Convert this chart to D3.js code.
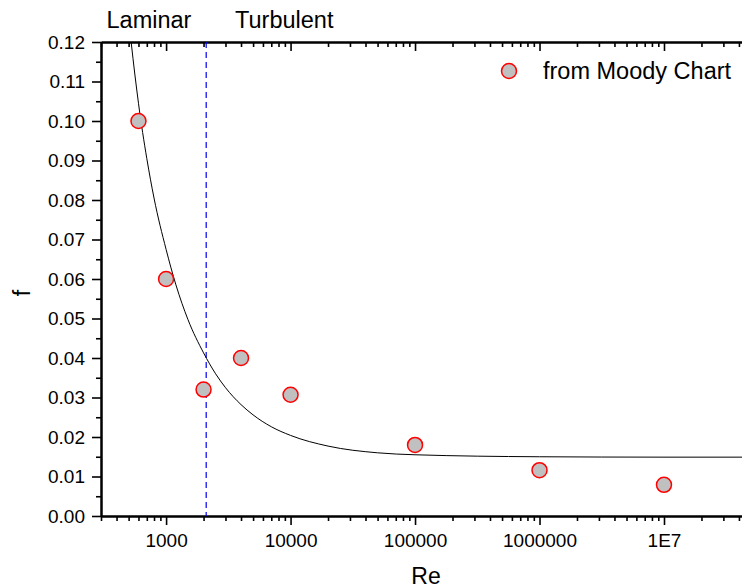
<!DOCTYPE html>
<html>
<head>
<meta charset="utf-8">
<script src="https://cdn.jsdelivr.net/npm/d3@7"></script>
<style>
  body { margin: 0; background: #fff; }
  text { font-family: "Liberation Sans", Arial, sans-serif; }
</style>
</head>
<body>
<div id="chart"></div>
<script>
// points (from Moody Chart)
var reValues = [600, 1000, 2000, 4000, 10000, 100000, 1000000, 10000000];
var fValues  = [0.100, 0.060, 0.032, 0.040, 0.0307, 0.0180, 0.0116, 0.0079];

// fitted curve
var curveRe = [500, 524, 600, 700, 800, 1000, 1200, 1500, 2000, 2500, 3000, 4000, 5000, 7000, 10000, 20000, 50000, 100000, 1000000, 10000000, 50000000];
var curveF  = [0.126, 0.120, 0.1045, 0.0905, 0.0805, 0.0675, 0.0585, 0.0497, 0.0413, 0.0360, 0.0325, 0.0282, 0.0256, 0.0226, 0.0204, 0.0177, 0.0160, 0.0155, 0.0150, 0.0149, 0.0149];

var xMajor = [1000, 10000, 100000, 1000000, 10000000];
var xLabels = ["1000", "10000", "100000", "1000000", "1E7"];
var yMajor = [0, 0.01, 0.02, 0.03, 0.04, 0.05, 0.06, 0.07, 0.08, 0.09, 0.10, 0.11, 0.12];
var transitionRe = 2100;
var legendLabel = "from Moody Chart";

var W = 742, H = 588;
var mLeft = 101, mRight = 751, mTop = 42, mBottom = 516;

var svg = d3.select("#chart").append("svg")
    .attr("width", W)
    .attr("height", H);

var x = d3.scaleLog().domain([300, 5e7]).range([mLeft, mRight]);
var y = d3.scaleLinear().domain([0, 0.12]).range([mBottom, mTop]);

// minor ticks
var xMinor = [];
for (var e = 2; e <= 7; e++) {
  for (var m = 2; m <= 9; m++) {
    var v = m * Math.pow(10, e);
    if (v >= 300 && v <= 5e7) xMinor.push(v);
  }
}
var yMinor = [];
for (var i = 0; i < 12; i++) yMinor.push(0.005 + i * 0.01);

svg.append("defs").append("clipPath").attr("id", "clip")
  .append("rect").attr("x", mLeft).attr("y", mTop)
  .attr("width", mRight - mLeft).attr("height", mBottom - mTop);

function styleAxis(g) {
  g.select(".domain").attr("stroke", "#000").attr("stroke-width", 2);
  g.selectAll(".tick line").attr("stroke", "#000").attr("stroke-width", 1.6);
  g.selectAll(".tick text")
    .attr("font-family", "'Liberation Sans', Arial, sans-serif")
    .attr("font-size", 19)
    .attr("fill", "#000");
}

// bottom axis
svg.append("g").attr("transform", "translate(0," + mBottom + ")")
  .call(d3.axisBottom(x).tickValues(xMinor).tickSize(5).tickSizeOuter(0).tickFormat(""))
  .call(styleAxis);
svg.append("g").attr("transform", "translate(0," + mBottom + ")")
  .call(d3.axisBottom(x).tickValues(xMajor).tickSize(9).tickSizeOuter(0).tickPadding(9)
        .tickFormat(function(d, i){ return xLabels[i]; }))
  .call(styleAxis);

// top axis (ticks inward)
svg.append("g").attr("transform", "translate(0," + mTop + ")")
  .call(d3.axisTop(x).tickValues(xMinor).tickSize(-5).tickSizeOuter(0).tickFormat(""))
  .call(styleAxis);
svg.append("g").attr("transform", "translate(0," + mTop + ")")
  .call(d3.axisTop(x).tickValues(xMajor).tickSize(-9).tickSizeOuter(0).tickFormat(""))
  .call(styleAxis);

// left axis
svg.append("g").attr("transform", "translate(" + mLeft + ",0)")
  .call(d3.axisLeft(y).tickValues(yMinor).tickSize(5).tickSizeOuter(0).tickFormat(""))
  .call(styleAxis);
svg.append("g").attr("transform", "translate(" + mLeft + ",0)")
  .call(d3.axisLeft(y).tickValues(yMajor).tickSize(9).tickSizeOuter(0).tickPadding(7)
        .tickFormat(d3.format(".2f")))
  .call(styleAxis);

// right axis (ticks inward, mostly off-screen)
svg.append("g").attr("transform", "translate(" + mRight + ",0)")
  .call(d3.axisRight(y).tickValues(yMinor).tickSize(-5).tickSizeOuter(0).tickFormat(""))
  .call(styleAxis);
svg.append("g").attr("transform", "translate(" + mRight + ",0)")
  .call(d3.axisRight(y).tickValues(yMajor).tickSize(-9).tickSizeOuter(0).tickFormat(""))
  .call(styleAxis);

// transition line
svg.append("line")
  .attr("x1", x(transitionRe)).attr("x2", x(transitionRe))
  .attr("y1", mTop).attr("y2", mBottom)
  .attr("stroke", "#0000ee").attr("stroke-width", 1.2)
  .attr("stroke-dasharray", "6,4");

// fitted curve
var curveData = curveRe.map(function(d, i){ return [d, curveF[i]]; });
var line = d3.line()
  .x(function(d){ return x(d[0]); })
  .y(function(d){ return y(d[1]); })
  .curve(d3.curveMonotoneX);
svg.append("path")
  .datum(curveData)
  .attr("clip-path", "url(#clip)")
  .attr("d", line)
  .attr("fill", "none")
  .attr("stroke", "#000")
  .attr("stroke-width", 1);

// points
svg.selectAll(".pt")
  .data(reValues)
  .enter().append("circle")
  .attr("class", "pt")
  .attr("cx", function(d){ return x(d); })
  .attr("cy", function(d, i){ return y(fValues[i]); })
  .attr("r", 7.5)
  .attr("fill", "#c0c0c0")
  .attr("stroke", "#ff0000")
  .attr("stroke-width", 1.5);

// legend
svg.append("circle")
  .attr("cx", 509).attr("cy", 71).attr("r", 7.5)
  .attr("fill", "#c0c0c0").attr("stroke", "#ff0000").attr("stroke-width", 1.5);
svg.append("text")
  .attr("x", 543).attr("y", 79)
  .attr("font-size", 23.5)
  .text(legendLabel);

// region labels
svg.append("text").attr("x", 149).attr("y", 28)
  .attr("text-anchor", "middle").attr("font-size", 23.5).text("Laminar");
svg.append("text").attr("x", 235).attr("y", 28)
  .attr("font-size", 23.5).text("Turbulent");

// axis titles
svg.append("text").attr("x", (mLeft + mRight) / 2).attr("y", 584)
  .attr("text-anchor", "middle").attr("font-size", 23).text("Re");
svg.append("text")
  .attr("transform", "translate(30,293) rotate(-90)")
  .attr("text-anchor", "middle").attr("font-size", 23).text("f");
</script>
</body>
</html>
